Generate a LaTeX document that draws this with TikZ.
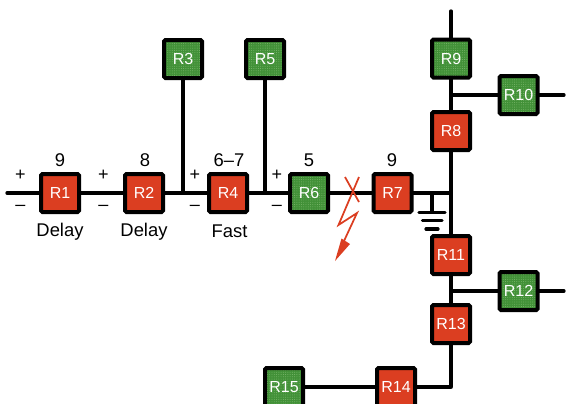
\documentclass[tikz,border=0pt]{standalone}
\usepackage{fontspec}
\setmainfont{Liberation Sans}
\usetikzlibrary{arrows.meta,patterns.meta}
\definecolor{relayred}{RGB}{219,62,33}
\definecolor{relaygreen}{RGB}{66,145,56}
\definecolor{relaydot}{RGB}{125,185,110}

\begin{document}
\begin{tikzpicture}[
    x=0.75pt,y=-0.75pt,
    relay/.style={draw,line width=3pt,rounded corners=1pt,minimum size=28.5pt,inner sep=0pt,outer sep=0pt,text=white,font=\fontsize{12}{14}\selectfont},
    trip/.style={relay,fill=relayred},
    back/.style={relay,preaction={fill=relaygreen},preaction={pattern={Dots[distance=1.7pt,radius=0.35pt]},pattern color=relaydot}},
    wire/.style={line width=2.5pt,line cap=round},
    lbl/.style={inner sep=0pt,font=\fontsize{13.8}{16}\selectfont},
    sign/.style={inner sep=0pt,font=\fontsize{13.5}{16}\selectfont},
    earth/.style={line width=2.4pt,line cap=round},
    fault/.style={draw=relayred,line width=1.3pt,line join=miter}
]
\clip (0,0) rectangle (569,404);
% relays
\node[trip] (r1) at (60,193) {R1};
\node[trip] (r2) at (144,193) {R2};
\node[back] (r3) at (183,59) {R3};
\node[trip] (r4) at (228,193) {R4};
\node[back] (r5) at (265,59) {R5};
\node[back] (r6) at (309,193) {R6};
\node[trip] (r7) at (392.5,193) {R7};
\node[trip] (r8) at (451,131) {R8};
\node[back] (r9) at (451,58.5) {R9};
\node[back] (r10) at (518.5,95) {R10};
\node[trip] (r11) at (451,255) {R11};
\node[back] (r12) at (518.5,291) {R12};
\node[trip] (r13) at (451,324) {R13};
\node[trip] (r14) at (396,387) {R14};
\node[back] (r15) at (284,387) {R15};
% junctions and free ends
\coordinate (in) at (7,193);
\coordinate (j3) at (183,193);
\coordinate (j5) at (265,193);
\coordinate (jbus) at (451,193);
\coordinate (jearth) at (432,193);
\coordinate (top) at (451,11);
\coordinate (j10) at (451,95);
\coordinate (end10) at (564,95);
\coordinate (j12) at (451,291);
\coordinate (end12) at (564,291);
\coordinate (corner) at (451,387);
\coordinate (earthtop) at (432,212);
% lines
\draw[wire] (in) -- (r1);
\draw[wire] (r1) -- (r2);
\draw[wire] (r2) -- (r4);
\draw[wire] (r4) -- (r6);
\draw[wire] (r6) -- (r7);
\draw[wire] (r7) -- (jbus);
\draw[wire] (r3) -- (j3);
\draw[wire] (r5) -- (j5);
\draw[wire] (top) -- (r9);
\draw[wire] (r9) -- (r8);
\draw[wire] (j10) -- (r10);
\draw[wire] (r10) -- (end10);
\draw[wire] (r8) -- (r11);
\draw[wire] (r11) -- (r13);
\draw[wire] (j12) -- (r12);
\draw[wire] (r12) -- (end12);
\draw[wire,line join=round] (r13) -- (corner) -- (r14);
\draw[wire] (r14) -- (r15);
% earth
\draw[wire] (jearth) -- (earthtop);
\draw[earth] (419,212.5) -- (445,212.5);
\draw[earth] (422.5,220.5) -- (442,220.5);
\draw[earth] (426,229) -- (438,229);
% fault
\draw[fault] (345,177) -- (359,202);
\draw[fault] (359,177) -- (338.5,225) -- (357,213) -- (344,241);
\fill[relayred] (335,261) -- (341.5,238.5) -- (350,244) -- cycle;
% numbers
\node[lbl] (n1) at (60,160) {9};
\node[lbl] (n2) at (145,160) {8};
\node[lbl] (n4) at (229,160) {6–7};
\node[lbl] (n6) at (309,160) {5};
\node[lbl] (n7) at (392,160) {9};
% modes
\node[lbl] (d1) at (60,231.5) {Delay};
\node[lbl] (d2) at (144,231.5) {Delay};
\node[lbl] (f4) at (229.5,231.5) {Fast};
% polarity
\node[sign] (p1) at (20.5,175) {+};
\node[sign] (m1) at (20.5,208) {–};
\node[sign] (p2) at (103.5,175) {+};
\node[sign] (m2) at (103.5,208) {–};
\node[sign] (p4) at (195,175) {+};
\node[sign] (m4) at (195,208) {–};
\node[sign] (p6) at (277,175) {+};
\node[sign] (m6) at (277,208) {–};
\end{tikzpicture}
\end{document}
